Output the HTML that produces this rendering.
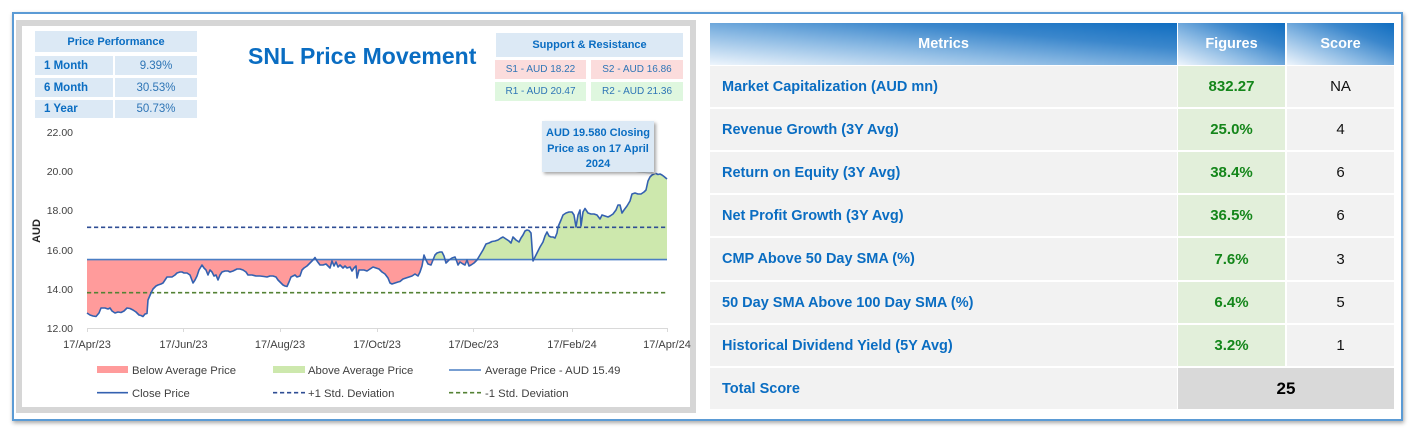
<!DOCTYPE html>
<html><head><meta charset="utf-8">
<style>
*{margin:0;padding:0;box-sizing:border-box}
body{width:1414px;height:432px;overflow:hidden;background:#fff;font-family:"Liberation Sans",Arial,sans-serif;position:relative}
.frame{position:absolute;left:12px;top:12px;width:1391px;height:409px;border:2px solid #5b9bd5;box-shadow:1px 2px 4px rgba(0,0,0,.35);background:#fff}
.panel{position:absolute;left:16px;top:20px;width:680px;height:393px;border:6px solid #d6d6d6;background:#fff}
.c{position:absolute;display:flex;align-items:center;justify-content:center;color:#0a6dc2}
.pp{background:#dce9f5}
.cell{position:absolute;display:flex;align-items:center}
.hd{background:linear-gradient(to top right,#eef5fc 0%,#8dbbe4 38%,#3b87cc 70%,#0f6dc0 100%);color:#fff;font-weight:bold;font-size:14.5px;justify-content:center}
.m{background:#f2f2f2;color:#0a6dc2;font-weight:bold;font-size:14.5px;padding-left:12px}
.f{background:#e2efda;color:#14861a;font-weight:bold;font-size:15px;justify-content:center}
.s{background:#f2f2f2;color:#111;font-size:15px;justify-content:center}
</style></head><body>
<div class="frame"></div>
<div class="panel"></div>

<!-- Price performance -->
<div class="c pp" style="left:35px;top:31px;width:162px;height:21px;font-weight:bold;font-size:11px">Price Performance</div>
<div class="c pp" style="left:35px;top:56px;width:78px;height:19px;font-weight:bold;font-size:11.5px;justify-content:flex-start;padding-left:9px">1 Month</div>
<div class="c pp" style="left:115px;top:56px;width:82px;height:19px;font-size:11.5px;color:#2e75b6">9.39%</div>
<div class="c pp" style="left:35px;top:78px;width:78px;height:19px;font-weight:bold;font-size:11.5px;justify-content:flex-start;padding-left:9px">6 Month</div>
<div class="c pp" style="left:115px;top:78px;width:82px;height:19px;font-size:11.5px;color:#2e75b6">30.53%</div>
<div class="c pp" style="left:35px;top:100px;width:78px;height:18px;font-weight:bold;font-size:11.5px;justify-content:flex-start;padding-left:9px">1 Year</div>
<div class="c pp" style="left:115px;top:100px;width:82px;height:18px;font-size:11.5px;color:#2e75b6">50.73%</div>

<!-- Support & Resistance -->
<div class="c pp" style="left:496px;top:33px;width:187px;height:24px;font-weight:bold;font-size:11px">Support &amp; Resistance</div>
<div class="c" style="left:495px;top:60px;width:91px;height:19px;background:#fbdcdc;font-size:10px;color:#2e75b6">S1 - AUD 18.22</div>
<div class="c" style="left:591px;top:60px;width:92px;height:19px;background:#fbdcdc;font-size:10px;color:#2e75b6">S2 - AUD 16.86</div>
<div class="c" style="left:495px;top:82px;width:91px;height:19px;background:#dff7df;font-size:10px;color:#2e75b6">R1 - AUD 20.47</div>
<div class="c" style="left:591px;top:82px;width:92px;height:19px;background:#dff7df;font-size:10px;color:#2e75b6">R2 - AUD 21.36</div>

<svg width="1414" height="432" style="position:absolute;left:0;top:0" xmlns="http://www.w3.org/2000/svg" font-family="Liberation Sans, Arial, sans-serif">
<defs>
<clipPath id="ca"><rect x="0" y="0" width="1414" height="259.6"/></clipPath>
<clipPath id="cb"><rect x="0" y="259.6" width="1414" height="200"/></clipPath>
<filter id="sh" x="-10%" y="-10%" width="130%" height="140%"><feDropShadow dx="2" dy="2" stdDeviation="1.5" flood-color="#000" flood-opacity="0.35"/></filter>
</defs>
<text x="248" y="64" font-size="23" font-weight="bold" fill="#0a6dc2">SNL Price Movement</text>

<!-- y labels -->
<g font-size="10.5" fill="#404040" text-anchor="end">
<text x="73" y="136">22.00</text>
<text x="73" y="175">20.00</text>
<text x="73" y="214">18.00</text>
<text x="73" y="254">16.00</text>
<text x="73" y="293">14.00</text>
<text x="73" y="332">12.00</text>
</g>
<text transform="translate(40,231) rotate(-90)" font-size="11" font-weight="bold" fill="#262626" text-anchor="middle">AUD</text>

<!-- fills -->
<g>
<polygon id="area" points="87,259.6 87,313 90,315 93,316 96,316.5 99,313 101,308 105,308 108,309 110,308 112,311 115,313 118,312 121,312.5 124,311 127,308 130,308.5 133,310 136,312 139,315 141,315.5 143,316.5 145,314 147,313.5 148,300 151,293 153,289 156,286 158,285 161,284 163,283 165,280 167,277 170,277 172,277 175,275 177,273 180,272 182,272 184,273 187,273 190,275 193,283 195,280 197,276 199,270 202,265 204,268 206,270 208,275 210,270 212,272 214,276 216,275 218,280 220,275 222,272 225,271 228,271 230,272 233,271 237,269 240,269 243,270 246,272 248,275 252,275 256,276 260,276 264,276.5 267,277 270,276 273,276 276,277 278,280 281,283 283,285 285,286 287,286.5 289,282 291,277 293,276 295,275 297,277 300,276 302,270 304,268 307,266 310,263 313,260 315,257.5 317,261 320,265 323,265 326,264 328,266 330,268 332,261 334,266 336,262 338,267 340,265 343,268 345,266 347,268 350,267 352,271 354,268 356,266 357,278 359,270 362,270 364,270 367,271 370,269 373,267 376,268 379,269 382,272 385,274 388,278 390,283 392,284 395,283 398,282 400,281.5 403,279 406,278 409,277 412,276 415,274 418,276 420,272 422,266 424,255 426,260 428,264 431,265 433,260 435,255 437,253 440,252 442,252 444,256 446,263 449,260 452,258 455,257 457,262 458,265 460,262 463,264 465,265 467,260 469,266 471,265 474,263 477,260 480,255 483,250 486,244 489,243 492,241.5 495,241 498,240 501,238 503,237 506,239 509,241 511,243 513,237 516,240 519,242 521,238 523,235 525,231 527,230 529,230.5 531,233 533,261 535,257 537,253 540,247 543,242 545,236 547,232 549,236 551,237 553,237 555,238 557,233 558,227 561,220 563,215 566,213 569,212 572,212 574,215 576,227 578,215 580,210 581,226 583,212 585,208.5 588,213 591,214 594,214 597,215 600,219 602,215 605,216 608,217 610,216 613,214 616,210 618,205 620,205 622,213 624,210 627,206 630,201 632,194 635,193 638,194 641,194 644,192 646,190 648,181 650,177 652,175 654,174 656,173.5 658,174.5 660,174 662,175 664,176.5 667,179 667,259.6" fill="#cde8ad" clip-path="url(#ca)"/>
<use href="#area" fill="#ff9b9b" clip-path="url(#cb)"/>
</g>
<polygon points="87,259.6 87,313 90,315 93,316 96,316.5 99,313 101,308 105,308 108,309 110,308 112,311 115,313 118,312 121,312.5 124,311 127,308 130,308.5 133,310 136,312 139,315 141,315.5 143,316.5 145,314 147,313.5 148,300 151,293 153,289 156,286 158,285 161,284 163,283 165,280 167,277 170,277 172,277 175,275 177,273 180,272 182,272 184,273 187,273 190,275 193,283 195,280 197,276 199,270 202,265 204,268 206,270 208,275 210,270 212,272 214,276 216,275 218,280 220,275 222,272 225,271 228,271 230,272 233,271 237,269 240,269 243,270 246,272 248,275 252,275 256,276 260,276 264,276.5 267,277 270,276 273,276 276,277 278,280 281,283 283,285 285,286 287,286.5 289,282 291,277 293,276 295,275 297,277 300,276 302,270 304,268 307,266 310,263 313,260 315,257.5 317,261 320,265 323,265 326,264 328,266 330,268 332,261 334,266 336,262 338,267 340,265 343,268 345,266 347,268 350,267 352,271 354,268 356,266 357,278 359,270 362,270 364,270 367,271 370,269 373,267 376,268 379,269 382,272 385,274 388,278 390,283 392,284 395,283 398,282 400,281.5 403,279 406,278 409,277 412,276 415,274 418,276 420,272 422,266 424,255 426,260 428,264 431,265 433,260 435,255 437,253 440,252 442,252 444,256 446,263 449,260 452,258 455,257 457,262 458,265 460,262 463,264 465,265 467,260 469,266 471,265 474,263 477,260 480,255 483,250 486,244 489,243 492,241.5 495,241 498,240 501,238 503,237 506,239 509,241 511,243 513,237 516,240 519,242 521,238 523,235 525,231 527,230 529,230.5 531,233 533,261 535,257 537,253 540,247 543,242 545,236 547,232 549,236 551,237 553,237 555,238 557,233 558,227 561,220 563,215 566,213 569,212 572,212 574,215 576,227 578,215 580,210 581,226 583,212 585,208.5 588,213 591,214 594,214 597,215 600,219 602,215 605,216 608,217 610,216 613,214 616,210 618,205 620,205 622,213 624,210 627,206 630,201 632,194 635,193 638,194 641,194 644,192 646,190 648,181 650,177 652,175 654,174 656,173.5 658,174.5 660,174 662,175 664,176.5 667,179 667,259.6" fill="#ff9b9b" clip-path="url(#cb)"/>

<!-- axis -->
<line x1="87" y1="328.5" x2="667" y2="328.5" stroke="#d9d9d9" stroke-width="1"/>
<g stroke="#d9d9d9" stroke-width="1">
<line x1="87.5" y1="328" x2="87.5" y2="332"/><line x1="183.5" y1="328" x2="183.5" y2="332"/><line x1="280.5" y1="328" x2="280.5" y2="332"/><line x1="377.5" y1="328" x2="377.5" y2="332"/><line x1="473.5" y1="328" x2="473.5" y2="332"/><line x1="572.5" y1="328" x2="572.5" y2="332"/><line x1="667.5" y1="328" x2="667.5" y2="332"/>
</g>
<g font-size="11" fill="#404040" text-anchor="middle">
<text x="87" y="348">17/Apr/23</text><text x="183.5" y="348">17/Jun/23</text><text x="280" y="348">17/Aug/23</text><text x="377" y="348">17/Oct/23</text><text x="473.5" y="348">17/Dec/23</text><text x="572" y="348">17/Feb/24</text><text x="667" y="348">17/Apr/24</text>
</g>

<!-- lines -->
<line x1="87" y1="227.3" x2="667" y2="227.3" stroke="#2f4e94" stroke-width="1.6" stroke-dasharray="4.2 2.8"/>
<line x1="87" y1="292.7" x2="667" y2="292.7" stroke="#548235" stroke-width="1.6" stroke-dasharray="4.2 2.8"/>
<line x1="87" y1="259.6" x2="667" y2="259.6" stroke="#4a7ec4" stroke-width="1.6"/>
<polyline fill="none" stroke="#3461b0" stroke-width="1.6" stroke-linejoin="round" points="87,313 90,315 93,316 96,316.5 99,313 101,308 105,308 108,309 110,308 112,311 115,313 118,312 121,312.5 124,311 127,308 130,308.5 133,310 136,312 139,315 141,315.5 143,316.5 145,314 147,313.5 148,300 151,293 153,289 156,286 158,285 161,284 163,283 165,280 167,277 170,277 172,277 175,275 177,273 180,272 182,272 184,273 187,273 190,275 193,283 195,280 197,276 199,270 202,265 204,268 206,270 208,275 210,270 212,272 214,276 216,275 218,280 220,275 222,272 225,271 228,271 230,272 233,271 237,269 240,269 243,270 246,272 248,275 252,275 256,276 260,276 264,276.5 267,277 270,276 273,276 276,277 278,280 281,283 283,285 285,286 287,286.5 289,282 291,277 293,276 295,275 297,277 300,276 302,270 304,268 307,266 310,263 313,260 315,257.5 317,261 320,265 323,265 326,264 328,266 330,268 332,261 334,266 336,262 338,267 340,265 343,268 345,266 347,268 350,267 352,271 354,268 356,266 357,278 359,270 362,270 364,270 367,271 370,269 373,267 376,268 379,269 382,272 385,274 388,278 390,283 392,284 395,283 398,282 400,281.5 403,279 406,278 409,277 412,276 415,274 418,276 420,272 422,266 424,255 426,260 428,264 431,265 433,260 435,255 437,253 440,252 442,252 444,256 446,263 449,260 452,258 455,257 457,262 458,265 460,262 463,264 465,265 467,260 469,266 471,265 474,263 477,260 480,255 483,250 486,244 489,243 492,241.5 495,241 498,240 501,238 503,237 506,239 509,241 511,243 513,237 516,240 519,242 521,238 523,235 525,231 527,230 529,230.5 531,233 533,261 535,257 537,253 540,247 543,242 545,236 547,232 549,236 551,237 553,237 555,238 557,233 558,227 561,220 563,215 566,213 569,212 572,212 574,215 576,227 578,215 580,210 581,226 583,212 585,208.5 588,213 591,214 594,214 597,215 600,219 602,215 605,216 608,217 610,216 613,214 616,210 618,205 620,205 622,213 624,210 627,206 630,201 632,194 635,193 638,194 641,194 644,192 646,190 648,181 650,177 652,175 654,174 656,173.5 658,174.5 660,174 662,175 664,176.5 667,179"/>

<!-- callout -->
<polygon points="628,171 648,171 656,174" fill="#dce9f5" stroke="#c8c8c8" stroke-width="0.6"/>
<rect x="542" y="121" width="112" height="51" fill="#dce9f5" filter="url(#sh)"/>
<g font-size="11" font-weight="bold" fill="#0a6dc2" text-anchor="middle">
<text x="598" y="136">AUD 19.580 Closing</text>
<text x="598" y="152">Price as on 17 April</text>
<text x="598" y="167">2024</text>
</g>

<!-- legend -->
<g font-size="11.3" fill="#404040">
<rect x="97" y="366" width="31" height="7" fill="#ff9b9b"/>
<text x="132" y="374">Below Average Price</text>
<rect x="273" y="366" width="32" height="7" fill="#cde8ad"/>
<text x="308" y="374">Above Average Price</text>
<line x1="449" y1="370" x2="481" y2="370" stroke="#4a7ec4" stroke-width="1.6"/>
<text x="485" y="374">Average Price - AUD 15.49</text>
<line x1="97" y1="392.7" x2="128" y2="392.7" stroke="#3461b0" stroke-width="1.6"/>
<text x="132" y="397">Close Price</text>
<line x1="273" y1="392.7" x2="305" y2="392.7" stroke="#2f4e94" stroke-width="1.6" stroke-dasharray="4.2 2.8"/>
<text x="308" y="397">+1 Std. Deviation</text>
<line x1="449" y1="392.7" x2="481" y2="392.7" stroke="#548235" stroke-width="1.6" stroke-dasharray="4.2 2.8"/>
<text x="485" y="397">-1 Std. Deviation</text>
</g>
</svg>

<!-- right table -->
<div class="cell hd" style="left:710px;top:23px;width:467px;height:42px">Metrics</div>
<div class="cell hd" style="left:1178px;top:23px;width:107px;height:42px">Figures</div>
<div class="cell hd" style="left:1287px;top:23px;width:107px;height:42px">Score</div>

<div class="cell m" style="left:710px;top:66px;width:467px;height:41px">Market Capitalization (AUD mn)</div>
<div class="cell f" style="left:1178px;top:66px;width:107px;height:41px">832.27</div>
<div class="cell s" style="left:1287px;top:66px;width:107px;height:41px">NA</div>

<div class="cell m" style="left:710px;top:109px;width:467px;height:41px">Revenue Growth (3Y Avg)</div>
<div class="cell f" style="left:1178px;top:109px;width:107px;height:41px">25.0%</div>
<div class="cell s" style="left:1287px;top:109px;width:107px;height:41px">4</div>

<div class="cell m" style="left:710px;top:152px;width:467px;height:41px">Return on Equity (3Y Avg)</div>
<div class="cell f" style="left:1178px;top:152px;width:107px;height:41px">38.4%</div>
<div class="cell s" style="left:1287px;top:152px;width:107px;height:41px">6</div>

<div class="cell m" style="left:710px;top:195px;width:467px;height:41px">Net Profit Growth (3Y Avg)</div>
<div class="cell f" style="left:1178px;top:195px;width:107px;height:41px">36.5%</div>
<div class="cell s" style="left:1287px;top:195px;width:107px;height:41px">6</div>

<div class="cell m" style="left:710px;top:238px;width:467px;height:42px">CMP Above 50 Day SMA (%)</div>
<div class="cell f" style="left:1178px;top:238px;width:107px;height:42px">7.6%</div>
<div class="cell s" style="left:1287px;top:238px;width:107px;height:42px">3</div>

<div class="cell m" style="left:710px;top:282px;width:467px;height:41px">50 Day SMA Above 100 Day SMA (%)</div>
<div class="cell f" style="left:1178px;top:282px;width:107px;height:41px">6.4%</div>
<div class="cell s" style="left:1287px;top:282px;width:107px;height:41px">5</div>

<div class="cell m" style="left:710px;top:325px;width:467px;height:41px">Historical Dividend Yield (5Y Avg)</div>
<div class="cell f" style="left:1178px;top:325px;width:107px;height:41px">3.2%</div>
<div class="cell s" style="left:1287px;top:325px;width:107px;height:41px">1</div>

<div class="cell m" style="left:710px;top:368px;width:467px;height:41px">Total Score</div>
<div class="cell s" style="left:1178px;top:368px;width:216px;height:41px;background:#d9d9d9;font-weight:bold;font-size:17px;color:#000">25</div>
</body></html>
